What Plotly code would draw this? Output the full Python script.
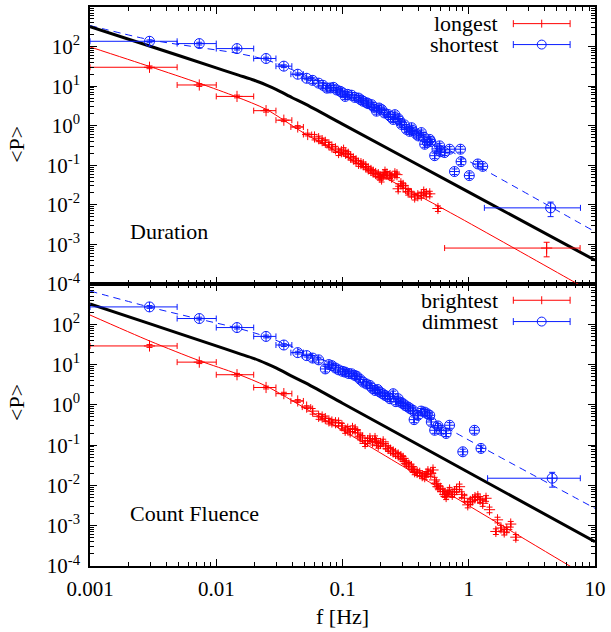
import plotly.graph_objects as go

# ---------------- data ----------------
# Top panel: Duration
long_bin_f  = [0.00296, 0.00734, 0.0146, 0.0248, 0.0343, 0.0442, 0.053]
long_bin_lo = [0.001, 0.0049, 0.0100, 0.0198, 0.0297, 0.0390, 0.0490]
long_bin_hi = [0.0049, 0.0100, 0.0198, 0.0297, 0.0397, 0.0490, 0.0570]
long_bin_P  = [30, 10.7, 5.5, 2.4, 1.38, 0.93, 0.60]
long_f = [0.0600, 0.0647, 0.0690, 0.0731, 0.0780, 0.0824, 0.0880, 0.0931, 0.0980, 0.102, 0.106, 0.111,
          0.116, 0.122, 0.128, 0.134, 0.140, 0.146, 0.153, 0.160, 0.168, 0.175, 0.183, 0.192,
          0.198, 0.204, 0.210, 0.217, 0.225, 0.238, 0.245, 0.260, 0.270, 0.276, 0.290, 0.302,
          0.316, 0.331, 0.352, 0.373, 0.395, 0.421, 0.440, 0.461, 0.491, 0.570]
long_P = [0.52, 0.47, 0.42, 0.38, 0.33, 0.29, 0.26, 0.21, 0.22, 0.24, 0.20, 0.19,
          0.16, 0.144, 0.13, 0.112, 0.11, 0.104, 0.092, 0.081, 0.074, 0.067, 0.062, 0.058,
          0.050, 0.045, 0.056, 0.067, 0.060, 0.055, 0.050, 0.061, 0.058, 0.0255, 0.034, 0.031,
          0.026, 0.021, 0.019, 0.0158, 0.017, 0.0175, 0.021, 0.019, 0.019, 0.0081]
long_far_f, long_far_lo, long_far_hi, long_far_P = [4.14], [0.644], [7.62], [0.00081]

short_bin_f  = [0.00296, 0.00734, 0.0146, 0.0248, 0.0343, 0.0442, 0.052]
short_bin_lo = [0.001, 0.0049, 0.0100, 0.0198, 0.0297, 0.0390, 0.0480]
short_bin_hi = [0.0049, 0.0100, 0.0198, 0.0297, 0.0397, 0.0490, 0.0560]
short_bin_P  = [136, 119, 89, 50, 32, 20, 15.8]
short_f = [0.058, 0.0647, 0.070, 0.0752, 0.080, 0.0849, 0.090, 0.096, 0.100, 0.105, 0.110, 0.118,
           0.125, 0.134, 0.140, 0.146, 0.155, 0.160, 0.170, 0.178, 0.186, 0.195, 0.204, 0.215,
           0.230, 0.240, 0.252, 0.260, 0.276, 0.285, 0.293, 0.310, 0.321, 0.340, 0.352, 0.360,
           0.385, 0.400, 0.421, 0.440, 0.448, 0.470, 0.491, 0.500, 0.537, 0.560, 0.588, 0.600,
           0.644, 0.705, 0.771, 0.860, 0.869, 1.01, 1.18, 1.29]
short_P = [14.0, 11.9, 10.5, 8.9, 9.0, 9.3, 8.0, 7.4, 6.8, 5.5, 6.2, 5.9,
           5.2, 5.0, 4.5, 4.15, 3.8, 3.6, 3.4, 2.9, 2.33, 2.8, 2.56, 2.1,
           1.92, 1.7, 1.44, 1.9, 1.52, 1.3, 1.08, 1.05, 0.81, 0.72, 0.89, 0.75,
           0.61, 0.55, 0.67, 0.52, 0.34, 0.38, 0.45, 0.40, 0.175, 0.26, 0.31, 0.22,
           0.21, 0.255, 0.0695, 0.255, 0.124, 0.055, 0.108, 0.094]
short_far_f, short_far_lo, short_far_hi, short_far_P = [4.45], [1.33], [7.67], [0.0084]

# Bottom panel: Count Fluence
bright_bin_f  = [0.00296, 0.00734, 0.0146, 0.0248, 0.0343, 0.0442, 0.052]
bright_bin_lo = [0.001, 0.0049, 0.0100, 0.0198, 0.0297, 0.0390, 0.0480]
bright_bin_hi = [0.0049, 0.0100, 0.0198, 0.0297, 0.0397, 0.0490, 0.0560]
bright_bin_P  = [29, 11.5, 5.6, 2.7, 1.9, 1.25, 0.88]
bright_f = [0.058, 0.0647, 0.069, 0.0731, 0.078, 0.0824, 0.088, 0.0931, 0.099, 0.105, 0.110, 0.115,
            0.120, 0.126, 0.132, 0.138, 0.144, 0.151, 0.158, 0.165, 0.173, 0.181, 0.186, 0.192,
            0.200, 0.210, 0.220, 0.230, 0.240, 0.252, 0.263, 0.276, 0.290, 0.302, 0.312, 0.321,
            0.335, 0.352, 0.362, 0.373, 0.390, 0.409, 0.428, 0.448, 0.460, 0.475, 0.500, 0.521,
            0.537, 0.555, 0.570, 0.595, 0.624, 0.645, 0.662, 0.685, 0.705, 0.740, 0.771, 0.800,
            0.845, 0.880, 0.925, 0.982, 1.03, 1.07, 1.12, 1.18, 1.23, 1.29, 1.37, 1.46,
            1.69, 1.64, 1.80, 1.91, 2.00, 2.15, 2.36]
bright_P = [0.70, 0.52, 0.50, 0.456, 0.40, 0.376, 0.36, 0.356, 0.30, 0.234, 0.25, 0.213,
            0.26, 0.244, 0.20, 0.160, 0.15, 0.110, 0.13, 0.146, 0.12, 0.146, 0.115, 0.100,
            0.110, 0.121, 0.095, 0.083, 0.075, 0.068, 0.062, 0.057, 0.052, 0.047, 0.040, 0.0353,
            0.032, 0.0292, 0.025, 0.0219, 0.021, 0.020, 0.0175, 0.0165, 0.019, 0.0219, 0.020, 0.0242,
            0.0137, 0.011, 0.0093, 0.0085, 0.0070, 0.0060, 0.0053, 0.0065, 0.0077, 0.0060, 0.0070, 0.0080,
            0.0093, 0.0060, 0.0048, 0.0033, 0.0040, 0.0044, 0.0050, 0.0053, 0.0045, 0.0036, 0.0048, 0.0025,
            0.0014, 0.00072, 0.00088, 0.00070, 0.00080, 0.0011, 0.00052]

dim_bin_f  = [0.00296, 0.00734, 0.0146, 0.0248, 0.0343, 0.0442, 0.052]
dim_bin_lo = [0.001, 0.0049, 0.0100, 0.0198, 0.0297, 0.0390, 0.0480]
dim_bin_hi = [0.0049, 0.0100, 0.0198, 0.0297, 0.0397, 0.0490, 0.0560]
dim_bin_P  = [270, 139, 83, 50, 30.6, 19.8, 16.7]
dim_f = [0.058, 0.0647, 0.0731, 0.0780, 0.0824, 0.0880, 0.0931, 0.100, 0.105, 0.112, 0.118, 0.125,
         0.130, 0.138, 0.146, 0.155, 0.165, 0.172, 0.181, 0.190, 0.198, 0.207, 0.217, 0.228,
         0.238, 0.252, 0.265, 0.276, 0.290, 0.302, 0.315, 0.331, 0.345, 0.362, 0.369, 0.396,
         0.420, 0.448, 0.470, 0.491, 0.505, 0.537, 0.570, 0.605, 0.662, 0.705, 0.897, 1.11, 1.25]
dim_P = [14.5, 13.1, 7.8, 10.0, 9.4, 8.2, 7.4, 6.8, 6.5, 6.0, 5.9, 5.4,
         5.1, 4.3, 3.66, 3.3, 3.03, 2.6, 2.28, 2.4, 2.07, 1.9, 1.72, 1.6,
         1.42, 1.89, 1.2, 1.42, 1.15, 1.07, 0.95, 0.88, 0.80, 0.73, 0.43, 0.55,
         0.70, 0.66, 0.60, 0.55, 0.376, 0.234, 0.30, 0.234, 0.195, 0.312, 0.0684, 0.234, 0.083]
dim_far_f, dim_far_lo, dim_far_hi, dim_far_P = [4.58], [1.41], [7.65], [0.0151]

# Fitted model curves
model_f = [0.001, 0.003, 0.01, 0.015, 0.02, 0.025, 0.03, 0.04, 0.05, 0.1, 1, 10]
model_P = [320, 102, 29, 19.0, 14.1, 10.6, 8.2, 5.1, 3.6, 1.1, 0.021, 0.0004]

long_fit_f  = [0.001, 0.003, 0.0073, 0.0146, 0.0248, 0.054, 0.82, 6.6, 10]
long_fit_P  = [98, 31, 11.9, 5.3, 2.6, 0.55, 0.005, 0.00012, 0.000057]
short_fit_f = [0.001, 0.003, 0.0073, 0.0146, 0.025, 0.054, 0.1, 1.29, 10]
short_fit_P = [340, 148, 95, 68, 46, 17.4, 7.2, 0.081, 0.0021]

bright_fit_f = [0.001, 0.003, 0.0073, 0.0146, 0.025, 0.054, 0.3, 6.0, 10]
bright_fit_P = [170, 38, 12.6, 5.9, 2.9, 0.73, 0.030, 0.00011, 0.000043]
dim_fit_f = [0.001, 0.003, 0.0073, 0.0146, 0.025, 0.054, 0.1, 0.77, 10]
dim_fit_P = [670, 265, 135, 81, 49, 18.6, 7.9, 0.21, 0.0027]

x_tickvals = [0.001, 0.01, 0.1, 1, 10]
x_ticktext = ["0.001", "0.01", "0.1", "1", "10"]
y_tickvals = [1e-4, 1e-3, 1e-2, 1e-1, 1, 10, 100]
y_ticktext = ["10<sup>-4</sup>", "10<sup>-3</sup>", "10<sup>-2</sup>", "10<sup>-1</sup>",
              "10<sup>0</sup>", "10<sup>1</sup>", "10<sup>2</sup>"]

# ---------------- styling ----------------
RED = "#ff0000"
BLUE = "#0a1eff"
FONT = "Liberation Serif"
REL_BIN, REL_DENSE, REL_FAR = 0.08, 0.16, 0.4

fig = go.Figure()


def add_series(xa, ya, color, symbol, size, bf, blo, bhi, bP, df, dP, ff=None, flo=None, fhi=None, fP=None):
    groups = [(bf, blo, bhi, bP, REL_BIN), (df, df, df, dP, REL_DENSE)]
    if ff:
        groups.append((ff, flo, fhi, fP, REL_FAR))
    for f, lo, hi, P, rel in groups:
        fig.add_trace(go.Scatter(
            x=f, y=P, xaxis=xa, yaxis=ya, mode="markers",
            marker=dict(symbol=symbol, size=size, color=color, line=dict(color=color, width=1)),
            error_x=dict(type="data", symmetric=False,
                         array=[h - v for h, v in zip(hi, f)],
                         arrayminus=[v - l for l, v in zip(lo, f)],
                         color=color, thickness=1, width=3),
            error_y=dict(type="data", symmetric=True, array=[p * rel for p in P],
                         color=color, thickness=1, width=3),
            showlegend=False, hoverinfo="skip"))


def add_line(xa, ya, f, P, color, width, dash="solid"):
    fig.add_trace(go.Scatter(x=f, y=P, xaxis=xa, yaxis=ya, mode="lines",
                             line=dict(color=color, width=width, dash=dash, shape="spline", smoothing=0.8),
                             showlegend=False, hoverinfo="skip"))


# top panel (x2, y2)
add_line("x2", "y2", long_fit_f, long_fit_P, RED, 1)
add_line("x2", "y2", short_fit_f, short_fit_P, BLUE, 1, "7px,5px")
add_line("x2", "y2", model_f, model_P, "black", 3)
add_series("x2", "y2", RED, "cross-thin-open", 8, long_bin_f, long_bin_lo, long_bin_hi, long_bin_P,
           long_f, long_P, long_far_f, long_far_lo, long_far_hi, long_far_P)
add_series("x2", "y2", BLUE, "circle-cross-open", 10, short_bin_f, short_bin_lo, short_bin_hi, short_bin_P,
           short_f, short_P, short_far_f, short_far_lo, short_far_hi, short_far_P)

# bottom panel (x, y)
add_line("x", "y", bright_fit_f, bright_fit_P, RED, 1)
add_line("x", "y", dim_fit_f, dim_fit_P, BLUE, 1, "7px,5px")
add_line("x", "y", model_f, model_P, "black", 3)
add_series("x", "y", RED, "cross-thin-open", 8, bright_bin_f, bright_bin_lo, bright_bin_hi, bright_bin_P,
           bright_f, bright_P)
add_series("x", "y", BLUE, "circle-cross-open", 10, dim_bin_f, dim_bin_lo, dim_bin_hi, dim_bin_P,
           dim_f, dim_P, dim_far_f, dim_far_lo, dim_far_hi, dim_far_P)

W, H = 611, 632
L, R, T, B = 90, 14, 5, 66
PW, PH = W - L - R, H - T - B
split = 283 / PH


def px(x):
    return (x - L) / PW


def py(y):
    return (H - B - y) / PH


minor_x = [m * 10 ** e for e in range(-3, 1) for m in range(2, 10)]
minor_y = [m * 10 ** e for e in range(-4, 3) for m in range(2, 10)]

axis_common = dict(type="log", showgrid=False, zeroline=False, showline=True, linecolor="black",
                   linewidth=1.5, mirror="allticks", ticks="inside", ticklen=7, tickwidth=1,
                   tickcolor="black",
                   minor=dict(ticks="inside", ticklen=4, tickwidth=1, tickcolor="black", showgrid=False),
                   tickfont=dict(family=FONT, size=21, color="black"))

xa = dict(axis_common, range=[-3, 1], tickvals=x_tickvals, ticktext=x_ticktext)
xa["minor"] = dict(axis_common["minor"], tickvals=minor_x)
ya = dict(axis_common, range=[-4, 3], tickvals=y_tickvals, ticktext=y_ticktext)
ya["minor"] = dict(axis_common["minor"], tickvals=minor_y)

fig.update_layout(
    width=W, height=H, margin=dict(l=L, r=R, t=T, b=B),
    paper_bgcolor="white", plot_bgcolor="white",
    font=dict(family=FONT, size=21, color="black"),
    xaxis=dict(xa, anchor="y", domain=[0, 1], ticklabelstandoff=3),
    xaxis2=dict(xa, anchor="y2", domain=[0, 1], matches="x", showticklabels=False),
    yaxis=dict(ya, anchor="x", domain=[0, split], ticklabelstandoff=4),
    yaxis2=dict(ya, anchor="x2", domain=[split, 1], ticklabelstandoff=4),
)

annotations = [
    dict(text="Duration", x=px(128), y=py(230), xanchor="left", yanchor="middle"),
    dict(text="Count Fluence", x=px(128), y=py(513), xanchor="left", yanchor="middle"),
    dict(text="&lt;P&gt;", x=px(16), y=py(143), textangle=-90, xanchor="center", yanchor="middle"),
    dict(text="&lt;P&gt;", x=px(16), y=py(402), textangle=-90, xanchor="center", yanchor="middle"),
    dict(text="f [Hz]", x=px(343), y=py(617), xanchor="center", yanchor="middle"),
]
shapes = []
legend_items = [("longest", RED, 21.7, "plus"), ("shortest", BLUE, 42.7, "circle"),
                ("brightest", RED, 299.3, "plus"), ("dimmest", BLUE, 320.7, "circle")]
for label, color, yy, kind in legend_items:
    annotations.append(dict(text=label, x=px(502), y=py(yy), xanchor="right", yanchor="middle",
                            font=dict(family=FONT, size=22)))
    ln = dict(color=color, width=1)
    shapes.append(dict(type="line", xref="paper", yref="paper", x0=px(515), x1=px(572), y0=py(yy), y1=py(yy), line=ln))
    for xx in (515, 572):
        shapes.append(dict(type="line", xref="paper", yref="paper", x0=px(xx), x1=px(xx),
                           y0=py(yy - 3.5), y1=py(yy + 3.5), line=ln))
    if kind == "plus":
        shapes.append(dict(type="line", xref="paper", yref="paper", x0=px(543.5), x1=px(543.5),
                           y0=py(yy - 4), y1=py(yy + 4), line=ln))
    else:
        shapes.append(dict(type="circle", xref="paper", yref="paper", x0=px(539), x1=px(548),
                           y0=py(yy - 4.5), y1=py(yy + 4.5), line=ln))

for a in annotations:
    a.setdefault("xref", "paper")
    a.setdefault("yref", "paper")
    a.setdefault("showarrow", False)
    a.setdefault("font", dict(family=FONT, size=22))

fig.update_layout(annotations=annotations, shapes=shapes)
fig.write_html("out.html")
